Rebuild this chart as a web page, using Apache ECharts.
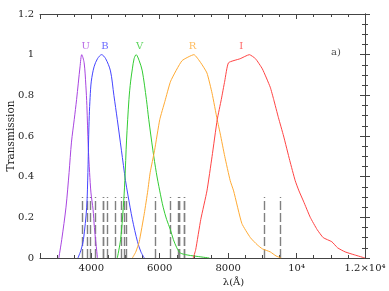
<!DOCTYPE html>
<html>
<head>
<meta charset="utf-8">
<script src="https://cdn.jsdelivr.net/npm/echarts@6/dist/echarts.min.js"></script>
<style>
html,body{margin:0;padding:0;background:#fff;}
#chart{width:389px;height:291px;}
</style>
</head>
<body>
<div id="chart"></div>
<script>
// ---- data (wavelength in Å, transmission) ----
const uWave = [3050, 3135, 3260, 3350, 3420, 3500, 3570, 3670, 3720, 3790, 3840, 3870, 3910, 3950, 3990, 4050, 4090, 4130, 4180];
const uTrans = [0, 0.09, 0.25, 0.42, 0.57, 0.68, 0.78, 0.94, 1.0, 0.96, 0.85, 0.75, 0.55, 0.42, 0.32, 0.24, 0.15, 0.08, 0];

const bWave = [3610, 3700, 3770, 3865, 3900, 3920, 3940, 3965, 4000, 4080, 4180, 4300, 4420, 4560, 4660, 4760, 4880, 5000, 5070, 5200, 5350, 5450, 5550];
const bTrans = [0, 0.04, 0.09, 0.25, 0.42, 0.58, 0.7, 0.79, 0.87, 0.94, 0.98, 1.0, 0.98, 0.92, 0.8, 0.68, 0.53, 0.38, 0.31, 0.19, 0.08, 0.03, 0];

const vWave = [4760, 4855, 4935, 4980, 5030, 5100, 5150, 5200, 5250, 5310, 5400, 5490, 5610, 5680, 5800, 5900, 6000, 6100, 6200, 6310, 6400, 6500, 6600, 6800, 7000, 7450];
const vTrans = [0, 0.09, 0.25, 0.38, 0.58, 0.78, 0.87, 0.93, 0.98, 1.0, 0.97, 0.92, 0.78, 0.68, 0.53, 0.42, 0.33, 0.25, 0.19, 0.14, 0.09, 0.05, 0.025, 0.015, 0.01, 0];

const rWave = [5200, 5300, 5400, 5550, 5650, 5720, 5850, 6000, 6150, 6320, 6650, 7000, 7200, 7380, 7530, 7680, 7770, 7900, 8060, 8160, 8400, 8650, 8850, 9000, 9230, 9400, 9550];
const rTrans = [0, 0.03, 0.08, 0.22, 0.33, 0.42, 0.53, 0.68, 0.77, 0.87, 0.97, 1.0, 0.96, 0.91, 0.81, 0.68, 0.61, 0.5, 0.38, 0.33, 0.17, 0.1, 0.065, 0.045, 0.03, 0.01, 0];

const iWave = [6980, 7050, 7200, 7380, 7530, 7680, 7800, 7900, 8010, 8350, 8620, 8800, 9000, 9230, 9330, 9470, 9620, 9800, 9960, 10070, 10200, 10400, 10600, 10780, 11030, 11200, 11420, 11700, 12000];
const iTrans = [0, 0.04, 0.19, 0.33, 0.5, 0.68, 0.78, 0.87, 0.96, 0.98, 1.0, 0.98, 0.93, 0.84, 0.78, 0.69, 0.6, 0.48, 0.38, 0.33, 0.28, 0.2, 0.14, 0.1, 0.08, 0.05, 0.03, 0.015, 0];

const bandNames = ['U', 'B', 'V', 'R', 'I'];
const bandLabelWave = [3835, 4400, 5410, 6960, 8380];
const bandLabelTrans = [1.04, 1.04, 1.04, 1.04, 1.04];

// emission line wavelengths (dashed markers) and their height
const lineWaves = [3727, 3869, 3970, 4102, 4340, 4363, 4471, 4686, 4861, 4959, 5007, 5876, 6300, 6548, 6563, 6584, 6717, 6731, 9069, 9532];
const lineTop = 0.3;

const xTickValues = [4000, 6000, 8000, 10000, 12000];
const xTickLabels = ['4000', '6000', '8000', '10\u2074', '1.2\u00d710\u2074'];
const panelLabel = 'a)';
const panelLabelPos = [11150, 1.012];

// ---- styles ----
const colors = ['#a845e0', '#4444ff', '#33cc33', '#ffaa33', '#ff4444'];
const FONT = 'DejaVu Serif';
const AX = '#444';

const waves = [uWave, bWave, vWave, rWave, iWave];
const trans = [uTrans, bTrans, vTrans, rTrans, iTrans];
const smoothing = [0.3, 0.3, 0.3, 0.15, 0.15];

const series = bandNames.map((n, k) => ({
  name: n,
  type: 'line',
  xAxisIndex: 0, yAxisIndex: 0,
  data: waves[k].map((w, j) => [w, trans[k][j]]),
  showSymbol: false,
  smooth: smoothing[k],
  lineStyle: { color: colors[k], width: 1 },
  itemStyle: { color: colors[k] },
  z: 3,
  silent: true
}));

series[0].markLine = {
  silent: true,
  symbol: ['none', 'none'],
  label: { show: false },
  lineStyle: { type: [9, 3], color: '#808080', width: 1.4 },
  emphasis: { disabled: true },
  data: lineWaves.map(w => [{ coord: [w, 0] }, { coord: [w, lineTop] }]),
  z: 2
};

series.push({
  type: 'scatter',
  xAxisIndex: 0, yAxisIndex: 0,
  symbolSize: 0,
  silent: true,
  data: bandNames.map((n, k) => ({
    value: [bandLabelWave[k], bandLabelTrans[k]],
    name: n,
    label: { color: colors[k] }
  })).concat([{ value: panelLabelPos, name: panelLabel, label: { color: '#222' } }]),
  label: {
    show: true, position: 'inside', formatter: p => p.name,
    fontFamily: FONT, fontSize: 10
  },
  z: 4
});

const minorTickCommon = { show: true, splitNumber: 4, length: 3, lineStyle: { color: AX, width: 1 } };

const option = {
  animation: false,
  grid: { left: 40, right: 24, top: 14, bottom: 33, containLabel: false, outerBoundsMode: 'none' },
  xAxis: [
    { // data axis with labels and frame line
      type: 'value', min: 2500, max: 12000, interval: 500, position: 'bottom',
      axisLine: { show: true, lineStyle: { color: AX, width: 1 } },
      axisTick: { show: false },
      splitLine: { show: false },
      axisLabel: {
        margin: 5, fontFamily: FONT, fontSize: 10, color: '#222',
        formatter: v => { const i = xTickValues.indexOf(v); return i >= 0 ? xTickLabels[i] : ''; }
      },
      name: '\u03bb(\u00c5)', nameLocation: 'middle', nameGap: 19, nameMoveOverlap: false,
      nameTextStyle: { fontFamily: FONT, fontSize: 10, color: '#222', padding: [0, 0, 0, 62] }
    },
    { // bottom ticks (counted from the right edge)
      type: 'value', min: 0, max: 9500, inverse: true, interval: 2000, position: 'bottom',
      axisLine: { show: false }, axisLabel: { show: false }, splitLine: { show: false },
      axisTick: { show: true, inside: true, length: 5, lineStyle: { color: AX, width: 1 } },
      minorTick: minorTickCommon
    },
    { // top ticks + frame
      type: 'value', min: 0, max: 9500, inverse: true, interval: 2000, position: 'top',
      axisLine: { show: true, lineStyle: { color: AX, width: 1 } },
      axisLabel: { show: false }, splitLine: { show: false },
      axisTick: { show: true, inside: true, length: 5, lineStyle: { color: AX, width: 1 } },
      minorTick: minorTickCommon
    }
  ],
  yAxis: [
    {
      type: 'value', min: 0, max: 1.2, interval: 0.2, position: 'left',
      axisLine: { show: true, lineStyle: { color: AX, width: 1 } },
      axisTick: { show: true, inside: true, length: 5, lineStyle: { color: AX, width: 1 } },
      minorTick: minorTickCommon,
      splitLine: { show: false },
      axisLabel: { margin: 6, fontFamily: FONT, fontSize: 10, color: '#222' },
      name: 'Transmission', nameLocation: 'middle', nameGap: 23, nameMoveOverlap: false,
      nameTextStyle: { fontFamily: FONT, fontSize: 10.5, color: '#222' }
    },
    {
      type: 'value', min: 0, max: 1.2, interval: 0.2, position: 'right',
      axisLine: { show: true, lineStyle: { color: AX, width: 1 } },
      axisTick: { show: true, inside: true, length: 5, lineStyle: { color: AX, width: 1 } },
      minorTick: minorTickCommon,
      splitLine: { show: false },
      axisLabel: { show: false }
    }
  ],
  series: series
};

const chart = echarts.init(document.getElementById('chart'), null, { renderer: 'canvas' });
chart.setOption(option);
</script>
</body>
</html>
